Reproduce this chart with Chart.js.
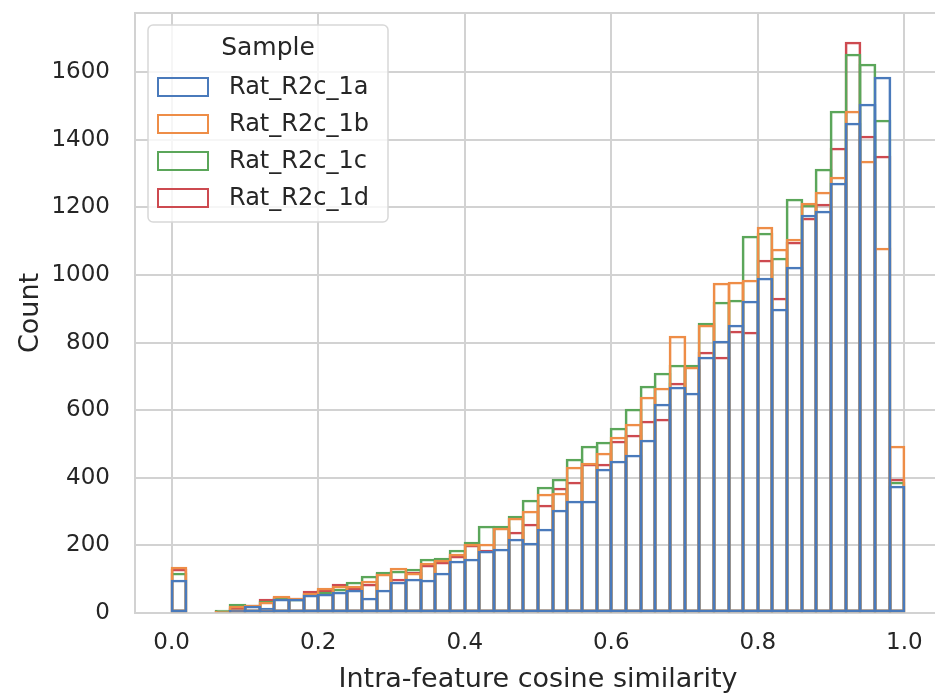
<!DOCTYPE html>
<html>
<head>
<meta charset="utf-8">
<script src="https://cdn.jsdelivr.net/npm/chart.js@4.4.1/dist/chart.umd.min.js"></script>
<style>
  html, body { margin: 0; padding: 0; background: #fff; overflow: hidden; }
  #wrap { width: 946px; height: 694px; }
</style>
</head>
<body>
<div id="wrap"><canvas id="chart" width="946" height="694"></canvas></div>
<script>
// ===== DATA =====
const binWidth = 0.02;
const binCount = 50;
const binCenters = Array.from({ length: binCount }, (_, i) => +(binWidth * (i + 0.5)).toFixed(2));

const sampleNames = ["Rat_R2c_1a", "Rat_R2c_1b", "Rat_R2c_1c", "Rat_R2c_1d"];

const rat1a = [97, 0, 0, 2, 10, 22, 14, 40, 40, 52,
  55, 62, 67, 45, 68, 93, 102, 98, 119, 153,
  160, 183, 188, 218, 207, 248, 306, 331, 331, 427,
  451, 466, 512, 618, 670, 650, 758, 806, 852, 923,
  990, 899, 1023, 1177, 1188, 1272, 1451, 1507, 1586, 376];

const rat1b = [136, 0, 0, 5, 20, 24, 33, 50, 43, 60,
  73, 80, 80, 95, 115, 132, 118, 148, 156, 176,
  204, 205, 251, 280, 303, 352, 356, 431, 445, 474,
  520, 559, 638, 665, 818, 728, 851, 975, 978, 985,
  1143, 1076, 1107, 1212, 1244, 1291, 1486, 1337, 1079, 494];

const rat1c = [118, 0, 0, 10, 26, 25, 36, 45, 42, 56,
  62, 70, 93, 110, 120, 125, 130, 160, 163, 187,
  211, 257, 257, 287, 335, 373, 397, 455, 494, 507,
  546, 604, 672, 709, 733, 733, 859, 919, 926, 1115,
  1125, 1051, 1224, 1208, 1314, 1486, 1655, 1625, 1459, 388];

const rat1d = [130, 0, 0, 7, 15, 23, 40, 48, 44, 66,
  67, 85, 75, 86, 118, 100, 120, 142, 151, 170,
  200, 186, 255, 240, 263, 320, 369, 387, 440, 441,
  510, 527, 569, 574, 680, 731, 773, 757, 835, 830,
  1043, 933, 1097, 1168, 1211, 1377, 1690, 1412, 1352, 395];

const xTickValues = [0, 0.2, 0.4, 0.6, 0.8, 1.0];
const yTickValues = [0, 200, 400, 600, 800, 1000, 1200, 1400, 1600];

// ===== STYLE =====
const colors = ["#4a7abb", "#ee8d47", "#5ba65a", "#cd4a50"];
const textColor = "#262626";
const gridColor = "#d2d2d2";
const fontFamily = "'DejaVu Sans', Verdana, sans-serif";

const series = [rat1a, rat1b, rat1c, rat1d];

const edge = 2;

const datasets = series.map((vals, i) => ({
  label: sampleNames[i],
  data: vals.map((v, j) => ({ x: binCenters[j], y: v })),
  backgroundColor: "rgba(0,0,0,0)",
  borderColor: colors[i],
  borderWidth: edge,
  borderSkipped: false,
  grouped: false,
  categoryPercentage: 1,
  barPercentage: 1
}));

// snap bar edges to whole pixels and let neighbours share one outline,
// otherwise the four overlapping outlines blend into grey
const snapBars = {
  id: "snapBars",
  afterDatasetsUpdate(chart) {
    const xs = chart.scales.x;
    chart.data.datasets.forEach((ds, i) => {
      chart.getDatasetMeta(i).data.forEach((el, j) => {
        const c = binCenters[j];
        const L = Math.round(xs.getPixelForValue(c - binWidth / 2)) - edge / 2;
        const R = Math.round(xs.getPixelForValue(c + binWidth / 2)) + edge / 2;
        el.x = (L + R) / 2;
        el.width = R - L;
        el.y = Math.round(el.y);
      });
    });
  }
};

// ===== LEGEND + TOP SPINE =====
const frame = {
  id: "frame",
  afterDatasetsDraw(chart) {
    const { ctx, chartArea: a } = chart;
    ctx.save();
    ctx.strokeStyle = gridColor;
    ctx.lineWidth = 2;
    ctx.beginPath();
    ctx.moveTo(a.left, a.top);
    ctx.lineTo(a.right, a.top);
    ctx.stroke();
    ctx.restore();
  },
  afterDraw(chart) {
    const { ctx, chartArea: a } = chart;
    const x = a.left + 13, y = a.top + 12, w = 240, h = 197;
    ctx.save();
    ctx.beginPath();
    ctx.roundRect(x, y, w, h, 5);
    ctx.fillStyle = "rgba(255,255,255,0.8)";
    ctx.fill();
    ctx.strokeStyle = "#d8d8d8";
    ctx.lineWidth = 1.5;
    ctx.stroke();

    ctx.fillStyle = textColor;
    ctx.textBaseline = "middle";
    ctx.textAlign = "center";
    ctx.font = "25px " + fontFamily;
    ctx.fillText("Sample", x + w / 2, y + 23);

    ctx.textAlign = "left";
    ctx.font = "24px " + fontFamily;
    chart.data.datasets.forEach((ds, i) => {
      const rowY = y + 62 + i * 37;
      ctx.strokeStyle = ds.borderColor;
      ctx.lineWidth = 2;
      ctx.strokeRect(x + 10, rowY - 9, 50, 18);
      ctx.fillStyle = textColor;
      ctx.fillText(ds.label, x + 81, rowY + 1);
    });
    ctx.restore();
  }
};

// ===== CHART =====
new Chart(document.getElementById("chart"), {
  type: "bar",
  data: { datasets },
  plugins: [snapBars, frame],
  options: {
    responsive: false,
    animation: false,
    layout: { padding: { top: 13, right: 5, left: 0, bottom: 0 } },
    plugins: {
      legend: { display: false },
      tooltip: { enabled: false }
    },
    scales: {
      x: {
        type: "linear",
        min: -0.05,
        max: 1.05,
        offset: false,
        afterFit(s) { s.height = 81; s.paddingLeft = 0; s.paddingRight = 0; },
        afterBuildTicks(s) { s.ticks = xTickValues.map(v => ({ value: v })); },
        grid: { color: gridColor, lineWidth: 2, drawTicks: false, offset: false },
        border: { color: gridColor, width: 2 },
        ticks: {
          padding: 16,
          color: textColor,
          font: { family: fontFamily, size: 23 },
          callback: v => Number(v).toFixed(1)
        },
        title: {
          display: true,
          text: "Intra-feature cosine similarity",
          color: textColor,
          font: { family: fontFamily, size: 27, lineHeight: 1 },
          padding: { top: 0, bottom: 1 }
        }
      },
      y: {
        min: 0,
        max: 1775,
        afterFit(s) { s.width = 135; s.paddingTop = 0; s.paddingBottom = 0; },
        afterBuildTicks(s) { s.ticks = yTickValues.map(v => ({ value: v })); },
        grid: { color: gridColor, lineWidth: 2, drawTicks: false },
        border: { color: gridColor, width: 2 },
        ticks: {
          padding: 25,
          color: textColor,
          font: { family: fontFamily, size: 23 },
          callback: v => String(v)
        },
        title: {
          display: true,
          text: "Count",
          color: textColor,
          font: { family: fontFamily, size: 27, lineHeight: 1 },
          padding: { top: 17, bottom: 0 }
        }
      }
    }
  }
});
</script>
</body>
</html>
